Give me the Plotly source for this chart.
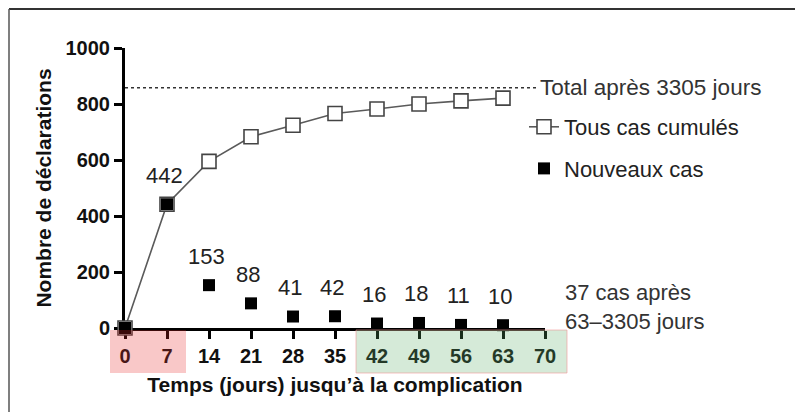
import plotly.graph_objects as go

# ---- data ----
days = [0, 7, 14, 21, 28, 35, 42, 49, 56, 63]
new_cases = [0, 442, 153, 88, 41, 42, 16, 18, 11, 10]
cumulative = [0, 442, 595, 683, 724, 766, 782, 800, 811, 821]
total_after_3305 = 858
x_ticks = [0, 7, 14, 21, 28, 35, 42, 49, 56, 63, 70]
y_ticks = [0, 200, 400, 600, 800, 1000]

# The page body has an 8px margin, so the figure is drawn 8px in from the top-left.
OFF = 8
W, H = 803 - OFF, 412 - OFF
L, T = 125 - OFF, 48 - OFF
PW, PH = 420, 280
R, B = W - L - PW, H - T - PH


def px(xp):  # page pixel -> paper x
    return (xp - OFF - L) / PW


def py(yp):  # page pixel -> paper y
    return (T + PH - (yp - OFF)) / PH


FONT = "Liberation Sans, Arial, Helvetica, sans-serif"

fig = go.Figure()

fig.add_trace(go.Scatter(
    x=days, y=cumulative, mode="lines+markers", name="Tous cas cumulés",
    line=dict(color="#5a5a5a", width=1.6),
    marker=dict(symbol="square", size=14, color="white",
                line=dict(color="#444444", width=1.6)),
    cliponaxis=False, legendgroup="a",
))
fig.add_trace(go.Scatter(
    x=days, y=new_cases, mode="markers", name="Nouveaux cas",
    marker=dict(symbol="square", size=12, color="black"),
    cliponaxis=False, legendgroup="b",
))

annotations = []
for d, v in zip(days, new_cases):
    if d == 0:
        continue
    annotations.append(dict(
        x=d, y=v, text=str(v), showarrow=False, xshift=-3, yshift=29,
        font=dict(family=FONT, size=22, color="#222222"),
        xanchor="center", yanchor="middle",
    ))

annotations.append(dict(
    x=70, y=total_after_3305, xref="x", yref="y", xanchor="left", yanchor="middle",
    xshift=-7, text="Total après 3305 jours", showarrow=False,
    font=dict(family=FONT, size=22.5, color="#333333"),
))
annotations.append(dict(
    x=px(563), y=py(307), xref="paper", yref="paper", xanchor="left", yanchor="middle",
    text="37 cas après<br>63–3305 jours", showarrow=False, align="left",
    font=dict(family=FONT, size=22, color="#333333"),
))

shapes = [
    # dotted total line
    dict(type="line", xref="x", yref="y", x0=0, x1=68.8, y0=total_after_3305,
         y1=total_after_3305, line=dict(color="#333333", width=1.5, dash="dot")),
    # tinted tick-label bands
    dict(type="rect", xref="paper", yref="paper", x0=px(110), x1=px(186),
         y0=py(373), y1=py(330), fillcolor="rgb(230,42,42)", opacity=0.26,
         line=dict(width=0), layer="above"),
    dict(type="rect", xref="paper", yref="paper", x0=px(356), x1=px(567),
         y0=py(373), y1=py(330), fillcolor="rgb(92,173,104)", opacity=0.26,
         line=dict(width=0), layer="above"),
    dict(type="rect", xref="paper", yref="paper", x0=px(356), x1=px(567),
         y0=py(373), y1=py(330), fillcolor="rgba(0,0,0,0)",
         line=dict(width=1, color="rgba(240,150,150,0.6)"), layer="above"),
    # frame (top and left edges)
    dict(type="line", xref="paper", yref="paper", x0=px(9), x1=px(803),
         y0=py(9), y1=py(9), line=dict(color="#333333", width=2)),
    dict(type="line", xref="paper", yref="paper", x0=px(9), x1=px(9),
         y0=py(9), y1=py(412), line=dict(color="#555555", width=1.5)),
]

axis_common = dict(
    showline=True, linecolor="black", linewidth=3,
    ticks="outside", ticklen=8, tickwidth=3, tickcolor="black",
    showgrid=False, zeroline=False, layer="below traces",
    tickfont=dict(family=FONT, size=20, color="#111111", weight="bold"),
)

fig.update_layout(
    width=W, height=H,
    margin=dict(l=L, r=R, t=T, b=B, autoexpand=False),
    paper_bgcolor="white", plot_bgcolor="white",
    xaxis=dict(range=[0, 70], tickvals=x_ticks, ticktext=[str(t) for t in x_ticks],
               title=dict(text="Temps (jours) jusqu’à la complication", standoff=12,
                          font=dict(family=FONT, size=21, color="#111111", weight="bold")),
               **axis_common),
    yaxis=dict(range=[0, 1000], tickvals=y_ticks, ticktext=[str(t) for t in y_ticks],
               title=dict(text="Nombre de déclarations", standoff=9,
                          font=dict(family=FONT, size=21, color="#111111", weight="bold")),
               **axis_common),
    legend=dict(x=px(524), y=py(106), xanchor="left", yanchor="top",
                font=dict(family=FONT, size=22, color="#222222"),
                bgcolor="rgba(0,0,0,0)", tracegroupgap=10, traceorder="grouped"),
    showlegend=True,
    annotations=annotations,
    shapes=shapes,
)

fig.write_html("out.html")
